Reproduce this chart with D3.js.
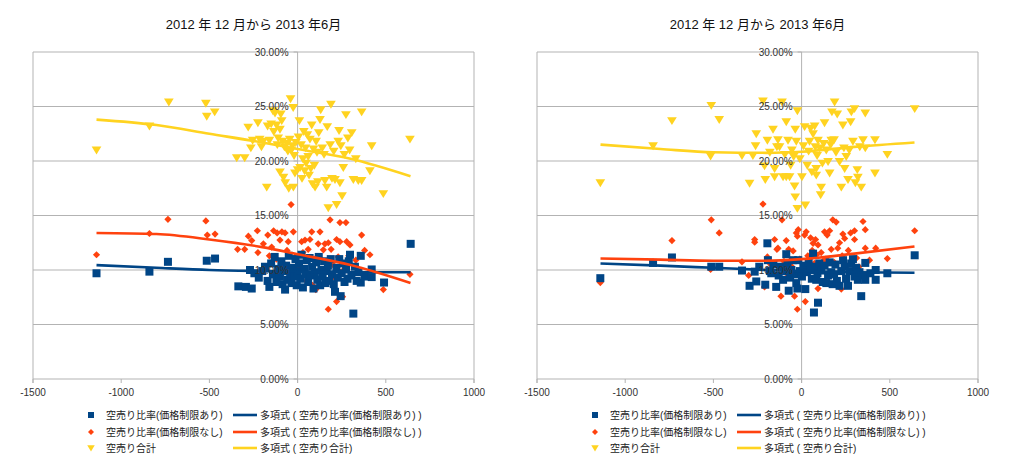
<!DOCTYPE html>
<html lang="ja">
  <head>
    <meta charset="UTF-8" />
    <script src="https://cdn.jsdelivr.net/npm/d3@7/dist/d3.min.js"></script>
    <style>
      body {
        margin: 0;
        background: #ffffff;
        font-family: "Liberation Sans", "Noto Sans CJK JP", sans-serif;
      }
      .tick-label {
        font-size: 10px;
        fill: #333333;
      }
      .legend-text {
        font-size: 10px;
        fill: #222222;
      }
      .title {
        font-size: 13px;
        fill: #111111;
      }
    </style>
    <title>空売り比率</title>
  </head>
  <body>
    <div class="canvas"></div>
    <script>
      // ---- data (y in %) ----
      const titleText = "2012 年 12 月から 2013 年6月";
      const seriesNames = [
        "空売り比率(価格制限あり)",
        "空売り比率(価格制限なし)",
        "空売り合計",
      ];
      const trendNames = [
        "多項式 ( 空売り比率(価格制限あり) )",
        "多項式 ( 空売り比率(価格制限なし) )",
        "多項式 ( 空売り合計)",
      ];
      const xTicks = [-1500, -1000, -500, 0, 500, 1000];
      const yTicks = [0, 5, 10, 15, 20, 25, 30];

      // left chart
      const leftRestricted = [
        [-1140, 9.7], [-840, 9.85], [-735, 10.75], [-515, 10.85], [-468, 11.05], [-336, 8.5], [-293, 8.45],
        [-270, 10.0], [-260, 8.3], [-245, 9.7], [-220, 9.3], [-200, 9.9], [-185, 10.3], [-170, 9.0],
        [-160, 8.45], [-150, 10.6], [-140, 9.6], [-130, 11.2], [-120, 8.9], [-110, 10.1], [-100, 9.4],
        [-92, 10.8], [-85, 8.7], [-78, 9.9], [-71, 8.2], [-65, 10.4], [-58, 9.1], [-50, 11.3], [-42, 9.7],
        [-35, 8.8], [-28, 10.2], [-20, 9.4], [-12, 11.0], [-5, 8.6], [0, 9.9], [8, 10.6], [15, 9.2],
        [22, 11.4], [30, 8.4], [38, 10.1], [45, 9.6], [52, 10.9], [60, 8.9], [68, 11.1], [75, 9.5],
        [82, 10.3], [90, 8.3], [98, 9.8], [105, 10.7], [112, 9.1], [120, 11.2], [128, 8.6], [135, 10.0],
        [142, 9.4], [150, 10.8], [158, 8.8], [165, 9.9], [172, 10.4], [180, 9.0], [188, 11.0], [195, 9.6],
        [205, 8.7], [212, 8.0], [220, 10.2], [228, 9.3], [236, 11.0], [244, 7.6], [250, 9.7], [258, 10.6],
        [266, 8.9], [275, 10.1], [283, 9.2], [290, 10.8], [297, 11.4], [305, 9.5], [316, 6.0], [325, 10.3],
        [335, 9.0], [345, 9.8], [358, 11.3], [358, 8.85], [380, 9.4], [420, 10.05], [420, 9.35],
        [490, 8.85], [641, 12.4],
      ];
      const leftFree = [
        [-1140, 11.4], [-840, 13.35], [-735, 14.65], [-520, 14.5], [-512, 13.2], [-468, 13.3], [-340, 11.9],
        [-300, 11.9], [-279, 13.1], [-260, 12.7], [-228, 13.6], [-225, 11.6], [-194, 12.4], [-169, 13.2],
        [-160, 11.3], [-147, 12.1], [-136, 13.6], [-120, 11.0], [-116, 13.4], [-100, 12.75], [-89, 13.5],
        [-80, 10.6], [-71, 13.4], [-60, 11.8], [-53, 12.6], [-45, 9.4], [-37, 16.0], [-24, 13.5],
        [-15, 11.2], [0, 10.4], [14, 10.3], [23, 12.6], [30, 11.6], [42, 12.75], [50, 9.0], [60, 11.9],
        [70, 12.8], [80, 13.5], [85, 8.6], [95, 11.0], [103, 8.2], [110, 10.8], [117, 12.4], [127, 13.5],
        [135, 9.9], [146, 11.85], [155, 12.4], [165, 10.2], [174, 12.5], [174, 6.4], [184, 14.6],
        [190, 11.9], [200, 10.5], [210, 9.3], [221, 12.8], [221, 7.1], [230, 11.2], [240, 14.35],
        [240, 12.6], [255, 7.55], [260, 10.0], [274, 14.35], [278, 12.6], [290, 11.3], [297, 12.3],
        [310, 9.5], [330, 10.9], [363, 13.2], [380, 11.8], [410, 11.4], [486, 8.2], [637, 9.6],
      ];
      const leftTotal = [
        [-1140, 21.0], [-840, 23.2], [-730, 25.4], [-520, 25.3], [-515, 24.1], [-470, 24.5], [-345, 20.3],
        [-300, 20.3], [-280, 23.1], [-265, 21.2], [-255, 21.9], [-225, 23.5], [-215, 22.0], [-205, 21.3],
        [-195, 21.8], [-175, 17.6], [-170, 23.2], [-160, 21.9], [-150, 23.4], [-140, 24.6], [-135, 22.7],
        [-128, 24.4], [-120, 23.3], [-115, 21.5], [-110, 22.1], [-100, 22.9], [-100, 19.0], [-95, 24.3],
        [-90, 23.7], [-85, 21.8], [-80, 18.5], [-75, 21.3], [-70, 18.0], [-60, 21.6], [-55, 20.9],
        [-50, 17.5], [-45, 22.0], [-40, 25.7], [-35, 21.0], [-30, 21.4], [-25, 24.9], [-24, 17.6],
        [-20, 20.5], [-15, 18.9], [-10, 21.7], [0, 19.2], [5, 22.2], [10, 23.7], [14, 19.4], [20, 21.5],
        [25, 18.4], [30, 20.2], [35, 22.7], [40, 19.1], [45, 21.2], [48, 19.8], [55, 22.4], [60, 20.4],
        [65, 18.7], [70, 22.0], [75, 19.3], [80, 23.3], [85, 17.9], [90, 21.1], [95, 19.6], [99, 17.6],
        [105, 21.8], [110, 20.8], [115, 18.1], [120, 22.6], [127, 23.8], [131, 24.7], [140, 21.2],
        [150, 20.6], [155, 18.2], [165, 17.6], [168, 23.15], [174, 15.7], [185, 21.5], [189, 25.2],
        [195, 18.4], [205, 20.9], [212, 18.3], [221, 16.0], [230, 21.8], [235, 22.8], [240, 18.0],
        [245, 21.4], [252, 16.8], [259, 19.4], [265, 20.6], [274, 24.25], [285, 22.1], [295, 21.0],
        [307, 22.6], [316, 18.3], [330, 20.2], [344, 18.2], [363, 24.5], [363, 18.2], [410, 19.1],
        [420, 21.4], [486, 17.0], [637, 22.0],
      ];
      const leftRestrictedTrend = [[-1140, 10.45], [-800, 10.2], [-500, 10.0], [-200, 9.9], [0, 9.85], [300, 9.8], [640, 9.8]];
      const leftFreeTrend = [[-1140, 13.4], [-800, 13.3], [-500, 12.8], [-200, 12.1], [0, 11.45], [300, 10.45], [640, 8.8]];
      const leftTotalTrend = [[-1140, 23.8], [-800, 23.3], [-500, 22.5], [-200, 21.7], [0, 21.1], [300, 20.2], [640, 18.6]];

      // right chart
      const rightRestricted = [
        [-1141, 9.25], [-842, 10.65], [-735, 11.15], [-512, 10.3], [-467, 10.3], [-338, 9.95], [-295, 8.55],
        [-266, 9.85], [-257, 8.95], [-240, 10.3], [-206, 8.65], [-194, 12.45], [-191, 10.9], [-180, 9.9],
        [-172, 9.7], [-160, 10.5], [-144, 8.45], [-130, 9.5], [-120, 10.3], [-105, 9.1], [-95, 9.9],
        [-87, 11.45], [-80, 10.6], [-73, 8.1], [-65, 9.3], [-58, 10.0], [-50, 10.9], [-40, 9.6], [-30, 8.8],
        [-24, 8.3], [-19, 10.9], [-10, 9.9], [2, 9.4], [10, 10.4], [21, 8.25], [30, 9.8], [40, 10.7],
        [51, 10.0], [58, 9.2], [65, 11.5], [70, 6.1], [76, 10.3], [83, 9.1], [90, 9.7], [93, 7.0],
        [100, 10.6], [111, 9.95], [120, 8.9], [130, 10.4], [140, 8.8], [150, 9.5], [159, 10.7], [168, 9.8],
        [176, 8.7], [184, 9.6], [192, 10.5], [200, 9.0], [215, 8.55], [225, 9.9], [235, 10.9], [244, 10.3],
        [252, 9.2], [263, 8.55], [272, 9.9], [281, 10.6], [291, 11.0], [300, 9.4], [310, 10.2], [319, 9.1],
        [328, 9.8], [338, 7.6], [348, 9.5], [361, 10.65], [361, 9.1], [390, 9.7], [420, 10.0], [420, 9.1],
        [486, 9.7], [641, 11.35],
      ];
      const rightFree = [
        [-1141, 8.85], [-842, 10.75], [-735, 12.7], [-516, 10.05], [-512, 14.6], [-467, 13.4], [-338, 10.75],
        [-300, 9.5], [-266, 12.8], [-266, 12.55], [-240, 10.3], [-219, 16.05], [-210, 8.45], [-194, 11.2],
        [-175, 10.5], [-153, 12.8], [-140, 11.9], [-134, 12.0], [-117, 7.6], [-111, 14.6], [-100, 10.8],
        [-87, 12.7], [-80, 9.6], [-73, 11.9], [-60, 10.4], [-48, 11.75], [-40, 7.6], [-30, 13.4],
        [-24, 13.1], [-24, 6.4], [-19, 13.7], [-10, 11.0], [0, 9.8], [17, 13.2], [21, 7.1], [26, 13.5],
        [35, 11.3], [45, 10.2], [51, 12.95], [60, 11.8], [65, 12.45], [72, 10.6], [79, 12.8], [86, 11.4],
        [93, 12.3], [93, 8.3], [100, 9.9], [111, 11.6], [120, 10.8], [130, 13.5], [138, 11.0], [145, 13.2],
        [152, 9.4], [159, 13.6], [168, 11.9], [177, 14.6], [185, 10.7], [196, 14.4], [205, 12.0],
        [215, 12.5], [225, 8.25], [230, 11.3], [234, 13.3], [244, 12.9], [255, 10.4], [265, 11.8],
        [278, 13.4], [285, 9.9], [300, 13.6], [300, 12.8], [312, 11.1], [325, 10.3], [348, 14.45],
        [361, 13.7], [361, 12.0], [385, 10.9], [420, 12.0], [486, 11.05], [641, 13.6],
      ];
      const rightTotal = [
        [-1141, 18.0], [-842, 21.4], [-735, 23.7], [-512, 25.1], [-516, 20.45], [-467, 23.8], [-338, 20.5],
        [-295, 17.95], [-276, 20.5], [-261, 21.4], [-257, 22.5], [-219, 25.5], [-210, 19.55], [-206, 18.3],
        [-194, 21.9], [-180, 20.8], [-162, 22.9], [-153, 19.3], [-153, 18.55], [-140, 21.3], [-134, 21.95],
        [-125, 21.3], [-111, 25.4], [-105, 18.55], [-95, 20.6], [-87, 23.6], [-87, 18.55], [-77, 21.9],
        [-68, 18.55], [-62, 19.6], [-55, 21.0], [-45, 20.4], [-40, 17.7], [-36, 16.7], [-36, 22.9],
        [-30, 21.8], [-24, 15.65], [-24, 24.6], [-10, 20.2], [2, 18.55], [10, 21.4], [17, 23.15],
        [21, 15.96], [32, 19.6], [40, 20.9], [45, 21.8], [51, 23.0], [58, 19.0], [65, 22.5], [74, 23.2],
        [78, 21.3], [83, 19.3], [83, 18.7], [88, 20.5], [93, 21.9], [102, 21.2], [108, 16.9], [111, 17.6],
        [118, 19.8], [125, 21.6], [130, 23.5], [140, 21.0], [150, 19.95], [159, 18.9], [165, 21.5],
        [168, 21.9], [172, 24.5], [184, 21.95], [187, 25.4], [195, 20.8], [202, 24.3], [215, 19.95],
        [225, 17.6], [234, 23.3], [240, 21.2], [244, 19.3], [253, 20.4], [263, 18.3], [270, 21.0],
        [278, 23.6], [282, 24.5], [291, 21.8], [300, 24.8], [305, 18.0], [316, 19.2], [319, 18.5],
        [330, 21.3], [338, 17.6], [348, 21.95], [361, 24.4], [361, 21.2], [416, 21.95], [416, 18.9],
        [486, 20.6], [641, 24.8],
      ];
      const rightRestrictedTrend = [[-1140, 10.6], [-800, 10.4], [-500, 10.2], [-200, 10.0], [0, 9.9], [300, 9.8], [640, 9.75]];
      const rightFreeTrend = [[-1140, 11.05], [-800, 10.95], [-500, 10.85], [-200, 10.85], [0, 11.0], [300, 11.5], [640, 12.15]];
      const rightTotalTrend = [[-1140, 21.5], [-800, 21.1], [-500, 20.8], [-200, 20.75], [0, 20.85], [300, 21.3], [640, 21.7]];

      const colors = ["#004586", "#ff420e", "#ffd320"];
      const gridColor = "#b3b3b3";

      const svg = d3
        .select(".canvas")
        .append("svg")
        .attr("width", 1024)
        .attr("height", 473);

      // marker shapes, centred on 0,0
      const markerPath = [
        (s) => `M${-s},${-s}H${s}V${s}H${-s}Z`,
        (s) => `M0,${-s}L${s},0L0,${s}L${-s},0Z`,
        (s) => `M${-s * 1.1},${-s * 0.8}H${s * 1.1}L0,${s}Z`,
      ];
      const markerSize = [4, 3.6, 4.4];

      function drawPanel(offsetX, points, trends) {
        const x = d3.scaleLinear().domain([-1500, 1000]).range([offsetX + 33, offsetX + 474]);
        const y = d3.scaleLinear().domain([0, 30]).range([379, 52]);
        const g = svg.append("g");

        g.append("text")
          .attr("class", "title")
          .attr("x", (x.range()[0] + x.range()[1]) / 2)
          .attr("y", 29)
          .attr("text-anchor", "middle")
          .text(titleText);

        // grid + frame
        g.selectAll(".grid")
          .data(yTicks)
          .join("line")
          .attr("x1", x(-1500))
          .attr("x2", x(1000))
          .attr("y1", (d) => y(d))
          .attr("y2", (d) => y(d))
          .attr("stroke", gridColor);
        g.selectAll(".vframe")
          .data([-1500, 0, 1000])
          .join("line")
          .attr("x1", (d) => x(d))
          .attr("x2", (d) => x(d))
          .attr("y1", y(30))
          .attr("y2", y(0) + 4)
          .attr("stroke", gridColor);
        g.selectAll(".xtick")
          .data(xTicks)
          .join("line")
          .attr("x1", (d) => x(d))
          .attr("x2", (d) => x(d))
          .attr("y1", y(0))
          .attr("y2", y(0) + 4)
          .attr("stroke", gridColor);
        g.selectAll(".ytick")
          .data(yTicks)
          .join("line")
          .attr("x1", x(0) - 4)
          .attr("x2", x(0))
          .attr("y1", (d) => y(d))
          .attr("y2", (d) => y(d))
          .attr("stroke", gridColor);

        // points: total first, restricted on top
        [2, 1, 0].forEach((i) => {
          g.append("g")
            .selectAll("path")
            .data(points[i])
            .join("path")
            .attr("d", markerPath[i](markerSize[i]))
            .attr("transform", (d) => `translate(${x(d[0])},${y(d[1])})`)
            .attr("fill", colors[i]);
        });

        // trend lines
        const line = d3
          .line()
          .curve(d3.curveMonotoneX)
          .x((d) => x(d[0]))
          .y((d) => y(d[1]));
        trends.forEach((t, i) => {
          g.append("path")
            .attr("d", line(t))
            .attr("fill", "none")
            .attr("stroke", colors[i])
            .attr("stroke-width", 2.6);
        });

        // axis labels
        g.selectAll(".ylab")
          .data(yTicks)
          .join("text")
          .attr("class", "tick-label")
          .attr("x", x(0) - 9)
          .attr("y", (d) => y(d))
          .attr("dy", "0.35em")
          .attr("text-anchor", "end")
          .text((d) => d3.format(".2f")(d) + "%");
        g.selectAll(".xlab")
          .data(xTicks)
          .join("text")
          .attr("class", "tick-label")
          .attr("x", (d) => x(d))
          .attr("y", 396)
          .attr("text-anchor", "middle")
          .text((d) => d);

        // legend
        const rows = [415, 432, 448];
        seriesNames.forEach((name, i) => {
          g.append("path")
            .attr("d", markerPath[i](i === 2 ? 3.4 : 3))
            .attr("transform", `translate(${offsetX + 91},${rows[i]})`)
            .attr("fill", colors[i]);
          g.append("text")
            .attr("class", "legend-text")
            .attr("x", offsetX + 106)
            .attr("y", rows[i])
            .attr("dy", "0.35em")
            .text(name);
          g.append("line")
            .attr("x1", offsetX + 233)
            .attr("x2", offsetX + 257)
            .attr("y1", rows[i])
            .attr("y2", rows[i])
            .attr("stroke", colors[i])
            .attr("stroke-width", 2.6);
          g.append("text")
            .attr("class", "legend-text")
            .attr("x", offsetX + 260)
            .attr("y", rows[i])
            .attr("dy", "0.35em")
            .text(trendNames[i]);
        });
      }

      drawPanel(0, [leftRestricted, leftFree, leftTotal], [leftRestrictedTrend, leftFreeTrend, leftTotalTrend]);
      drawPanel(504, [rightRestricted, rightFree, rightTotal], [rightRestrictedTrend, rightFreeTrend, rightTotalTrend]);
    </script>
  </body>
</html>
